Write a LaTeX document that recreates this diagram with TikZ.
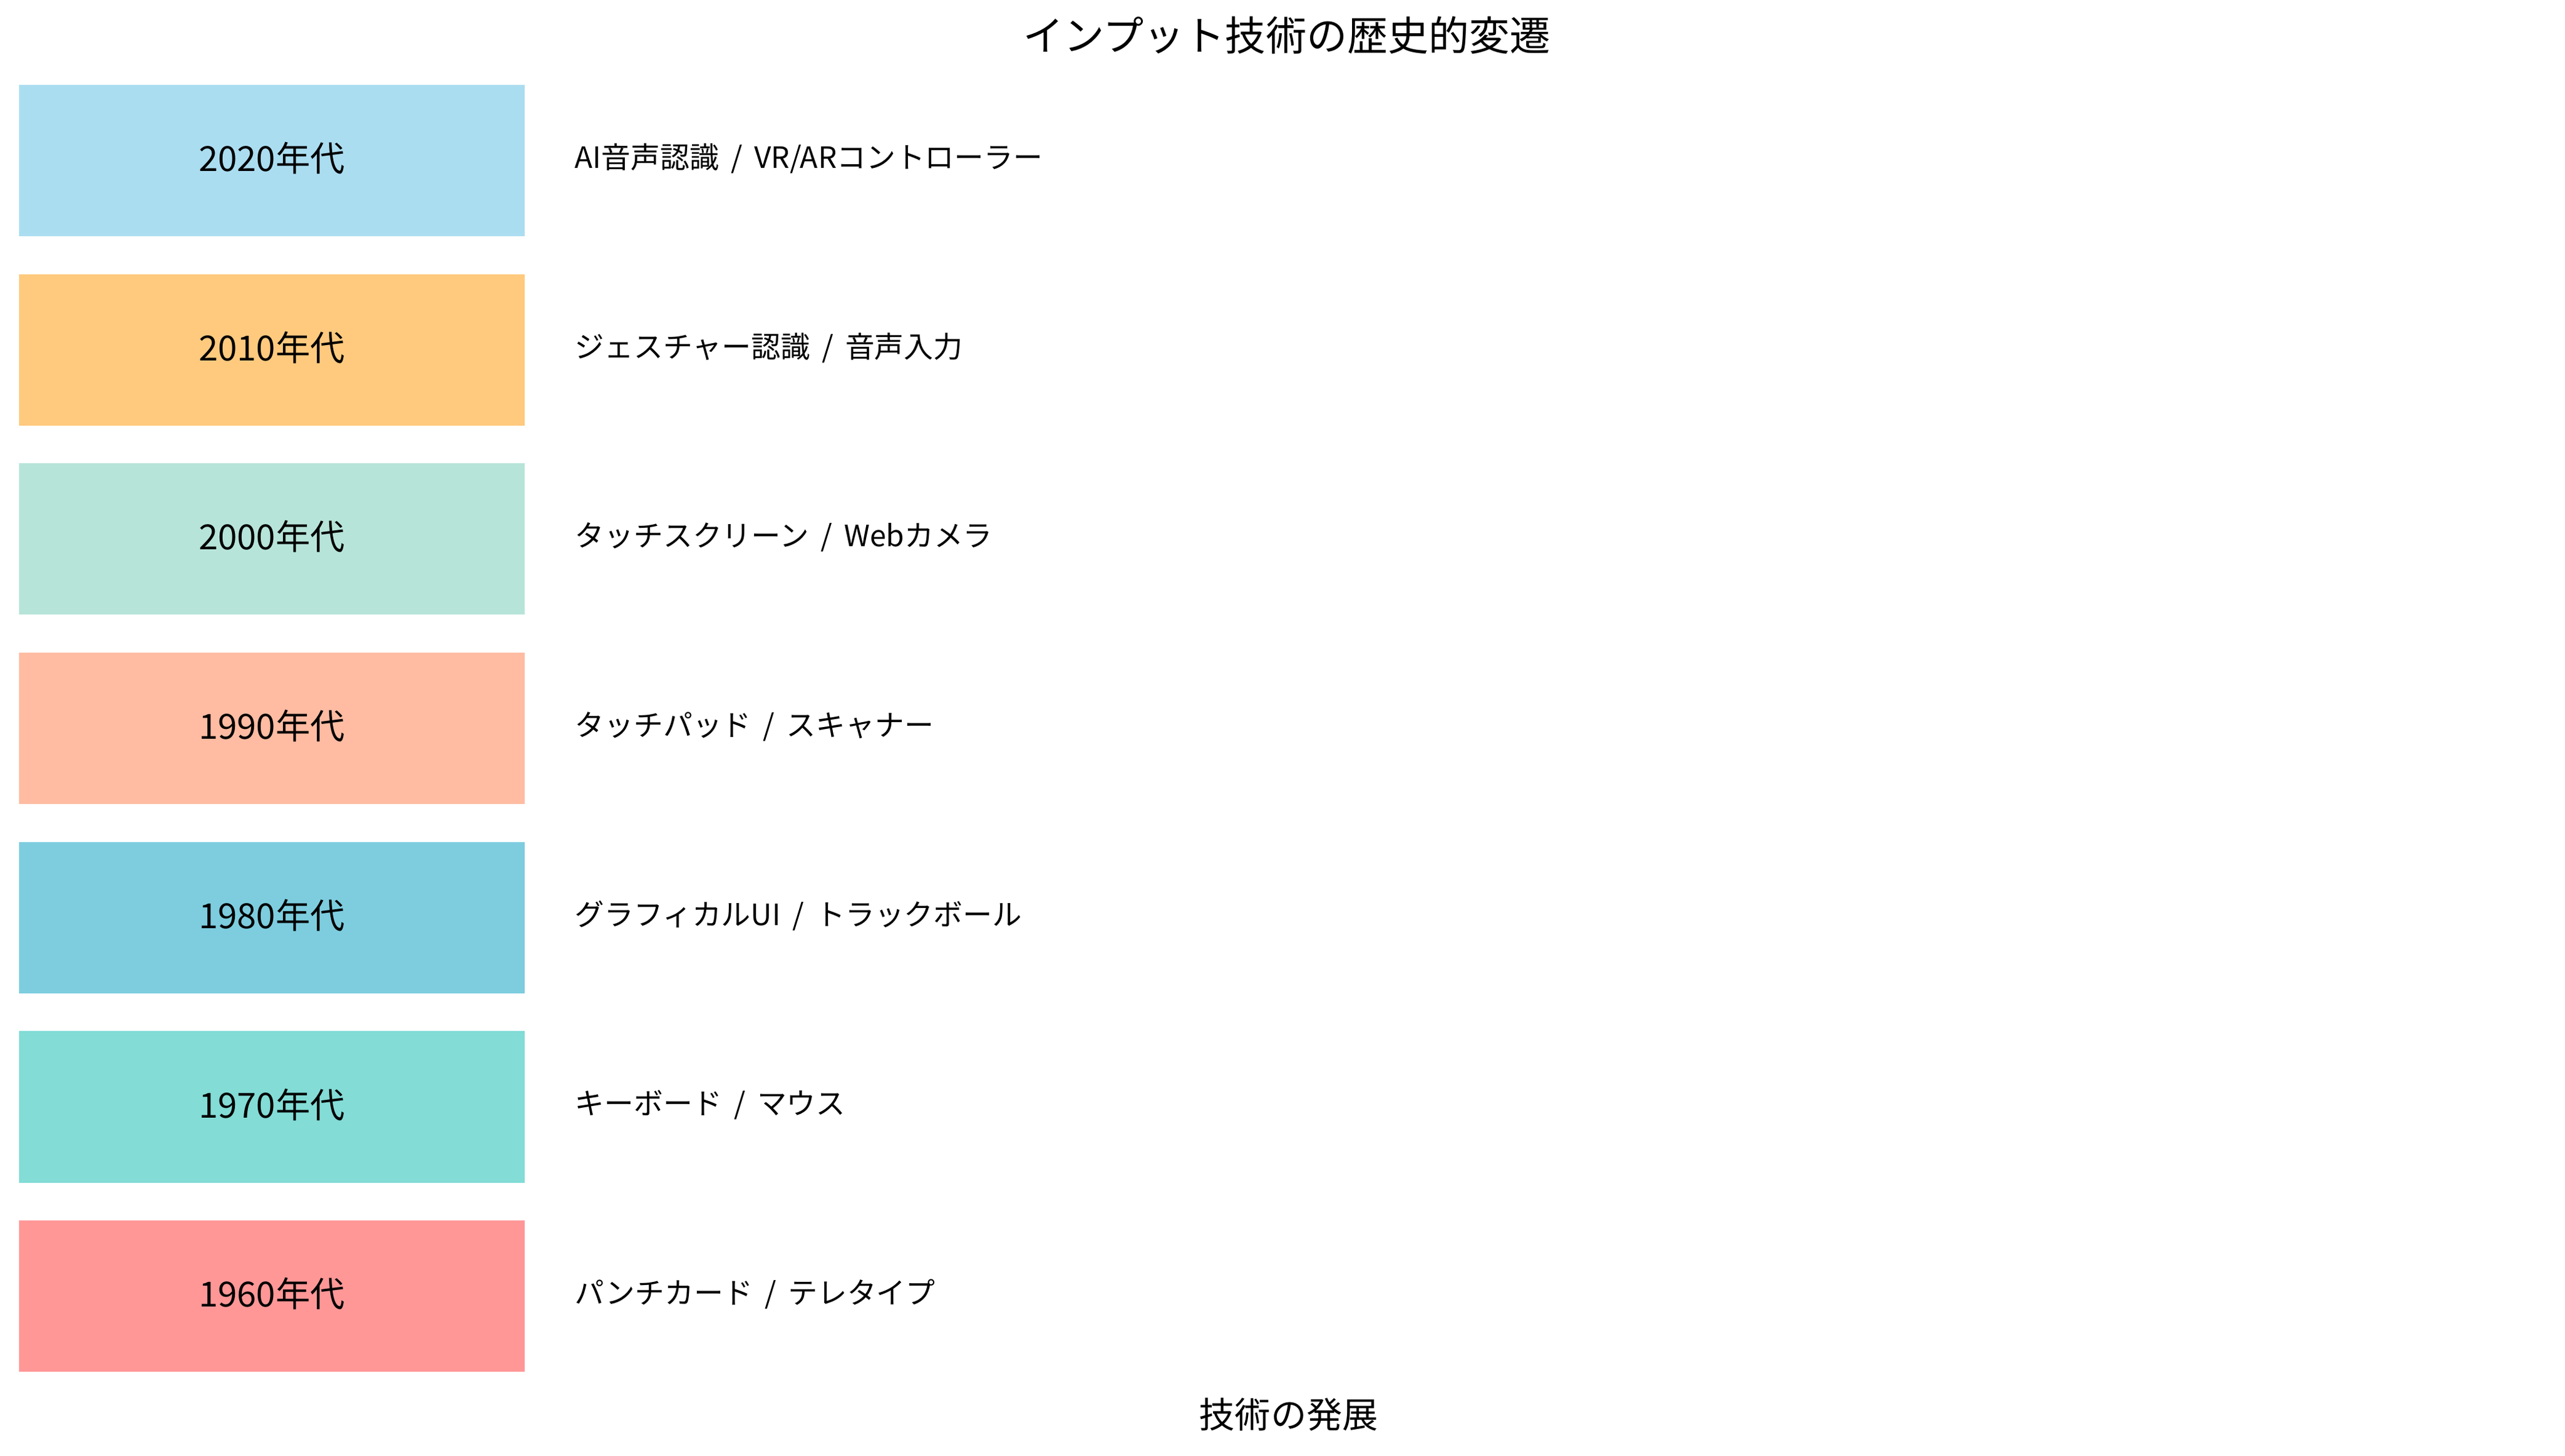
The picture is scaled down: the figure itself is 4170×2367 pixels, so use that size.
\documentclass[tikz,border=0pt]{standalone}
\usepackage{fontspec}
\setmainfont[WordSpace=1.8]{Noto Sans CJK JP}
\usepackage{xcolor}
\definecolor{decade1960}{HTML}{FF9797}
\definecolor{decade1970}{HTML}{83DCD6}
\definecolor{decade1980}{HTML}{7DCDDF}
\definecolor{decade1990}{HTML}{FFBCA2}
\definecolor{decade2000}{HTML}{B7E4D9}
\definecolor{decade2010}{HTML}{FFCA7E}
\definecolor{decade2020}{HTML}{ABDDF1}
\tikzset{
  decadebox/.style={minimum width=8.22cm,minimum height=2.46cm,inner sep=0pt,
    font=\fontsize{16}{19}\selectfont},
  techtext/.style={anchor=west,inner sep=0pt,font=\fontsize{13.6}{16}\selectfont},
}

\begin{document}
\begin{tikzpicture}[x=0.01cm,y=-0.01cm]
    \useasboundingbox (0,0) rectangle (4170,2367);
    \node (title) at (2092,57) {\fontsize{18.8}{22}\selectfont インプット技術の歴史的変遷};

    \node [decadebox,fill=decade2020] (d2020) at (442,261) {\raisebox{3.5pt}{2020年代}};
    \node [techtext] (t2020) at (934,258) {AI音声認識 / VR/ARコントローラー};

    \node [decadebox,fill=decade2010] (d2010) at (442,568.7) {\raisebox{3.5pt}{2010年代}};
    \node [techtext] (t2010) at (934,565.7) {ジェスチャー認識 / 音声入力};

    \node [decadebox,fill=decade2000] (d2000) at (442,876.4) {\raisebox{3.5pt}{2000年代}};
    \node [techtext] (t2000) at (934,873.4) {タッチスクリーン / Webカメラ};

    \node [decadebox,fill=decade1990] (d1990) at (442,1184.1) {\raisebox{3.5pt}{1990年代}};
    \node [techtext] (t1990) at (934,1181.1) {タッチパッド / スキャナー};

    \node [decadebox,fill=decade1980] (d1980) at (442,1491.8) {\raisebox{3.5pt}{1980年代}};
    \node [techtext] (t1980) at (934,1488.8) {グラフィカルUI / トラックボール};

    \node [decadebox,fill=decade1970] (d1970) at (442,1799.5) {\raisebox{3.5pt}{1970年代}};
    \node [techtext] (t1970) at (934,1796.5) {キーボード / マウス};

    \node [decadebox,fill=decade1960] (d1960) at (442,2107.2) {\raisebox{3.5pt}{1960年代}};
    \node [techtext] (t1960) at (934,2104.2) {パンチカード / テレタイプ};

    \node (xlabel) at (2095,2300) {\fontsize{16.5}{20}\selectfont 技術の発展};
  \end{tikzpicture}
\end{document}
